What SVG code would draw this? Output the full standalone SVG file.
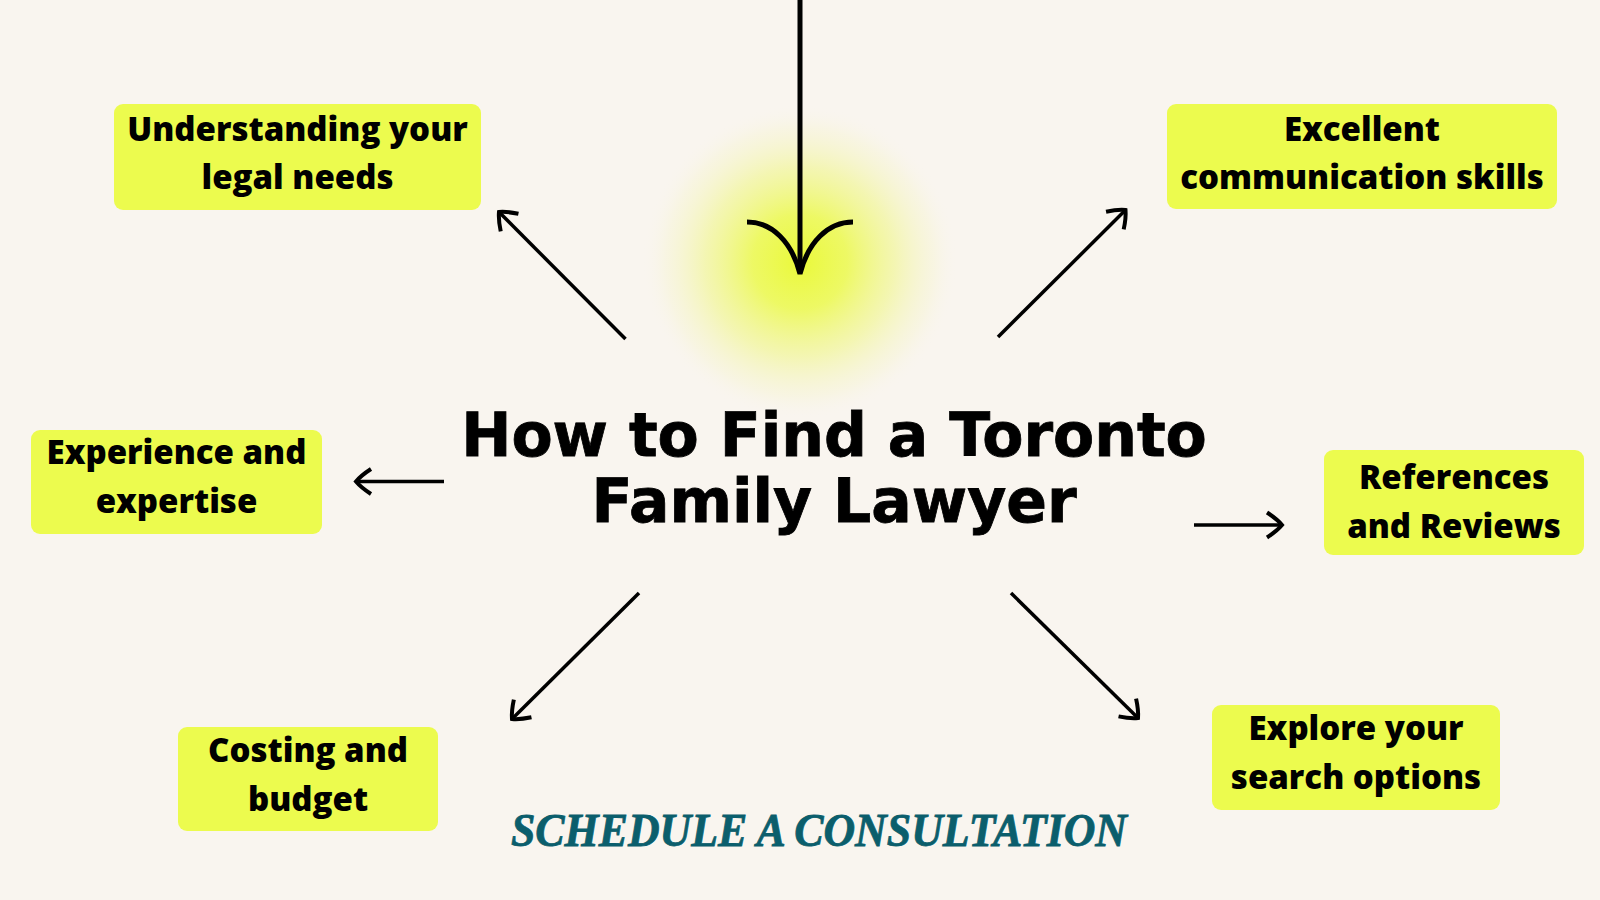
<svg xmlns="http://www.w3.org/2000/svg" width="1600" height="900" viewBox="0 0 1600 900">
  <style>
    .box { fill: #ecfb4e; }
    .lbl { font-family: "Open Sans", Lato, "Noto Sans", sans-serif; font-weight: 800; font-size: 33px; fill: #000; text-anchor: middle; }
    .title { font-family: "DejaVu Sans", "Liberation Sans", sans-serif; font-weight: bold; font-size: 60px; fill: #000; text-anchor: middle; stroke: #000; stroke-width: 0.8; }
    .cta { font-family: "Liberation Serif", "DejaVu Serif", serif; font-weight: bold; font-style: italic; font-size: 46px; fill: #0b5e6c; stroke: #0b5e6c; stroke-width: 0.8; }
    .conn { stroke: #000; stroke-width: 3.5; fill: none; stroke-linecap: butt; }
  </style>
  <defs>
    <radialGradient id="glow" cx="0.5" cy="0.5" r="0.5">
      <stop offset="0" stop-color="#eaf93a" stop-opacity="1"/>
      <stop offset="0.3" stop-color="#ecf955" stop-opacity="0.9"/>
      <stop offset="0.6" stop-color="#f0f68a" stop-opacity="0.6"/>
      <stop offset="0.85" stop-color="#f5f4c4" stop-opacity="0.3"/>
      <stop offset="1" stop-color="#f9f5ef" stop-opacity="0"/>
    </radialGradient>
    <marker id="head" markerUnits="userSpaceOnUse" markerWidth="40" markerHeight="40" refX="0" refY="0" viewBox="-20 -20 40 40" orient="auto" overflow="visible">
      <path d="M -15,-12.5 Q -5,-6 0,0 Q -5,6 -15,12.5" fill="none" stroke="#000" stroke-width="4" stroke-linecap="butt"/>
    </marker>
  </defs>
  <rect width="1600" height="900" fill="#f9f5ef"/>
  <circle cx="800" cy="262" r="158" fill="url(#glow)"/>

  <g id="connectors">
    <line class="conn" x1="800" y1="0" x2="800" y2="272" style="stroke-width:5"/>
    <path d="M 747,222 C 772,222 792,242 800,274 C 808,242 828,222 853,222" fill="none" stroke="#000" stroke-width="5"/>
    <line class="conn" x1="625.5" y1="339" x2="499" y2="212" marker-end="url(#head)"/>
    <line class="conn" x1="998" y1="337" x2="1125.5" y2="210" marker-end="url(#head)"/>
    <line class="conn" x1="444" y1="481.5" x2="356" y2="481.5" marker-end="url(#head)"/>
    <line class="conn" x1="1194" y1="525" x2="1282" y2="525" marker-end="url(#head)"/>
    <line class="conn" x1="639" y1="593" x2="512" y2="719" marker-end="url(#head)"/>
    <line class="conn" x1="1011" y1="593" x2="1138" y2="718" marker-end="url(#head)"/>
  </g>

  <g id="title">
    <text class="title" x="834" y="456">How to Find a Toronto</text>
    <text class="title" x="834" y="522">Family Lawyer</text>
  </g>

  <g id="node-understanding">
    <rect class="box" x="114" y="104" width="367" height="106" rx="9"/>
    <text class="lbl" x="297.5" y="141">Understanding your</text>
    <text class="lbl" x="297.5" y="189">legal needs</text>
  </g>

  <g id="node-communication">
    <rect class="box" x="1167" y="104" width="390" height="105" rx="9"/>
    <text class="lbl" x="1362" y="141">Excellent</text>
    <text class="lbl" x="1362" y="189">communication skills</text>
  </g>

  <g id="node-experience">
    <rect class="box" x="31" y="430" width="291" height="104" rx="9"/>
    <text class="lbl" x="176.5" y="464">Experience and</text>
    <text class="lbl" x="176.5" y="513">expertise</text>
  </g>

  <g id="node-references">
    <rect class="box" x="1324" y="450" width="260" height="105" rx="9"/>
    <text class="lbl" x="1454" y="489">References</text>
    <text class="lbl" x="1454" y="538">and Reviews</text>
  </g>

  <g id="node-costing">
    <rect class="box" x="178" y="727" width="260" height="104" rx="9"/>
    <text class="lbl" x="308" y="762">Costing and</text>
    <text class="lbl" x="308" y="811">budget</text>
  </g>

  <g id="node-explore">
    <rect class="box" x="1212" y="705" width="288" height="105" rx="9"/>
    <text class="lbl" x="1356" y="740">Explore your</text>
    <text class="lbl" x="1356" y="789">search options</text>
  </g>

  <g id="cta">
    <text class="cta" x="511" y="846" textLength="616" lengthAdjust="spacingAndGlyphs">SCHEDULE A CONSULTATION</text>
  </g>
</svg>
